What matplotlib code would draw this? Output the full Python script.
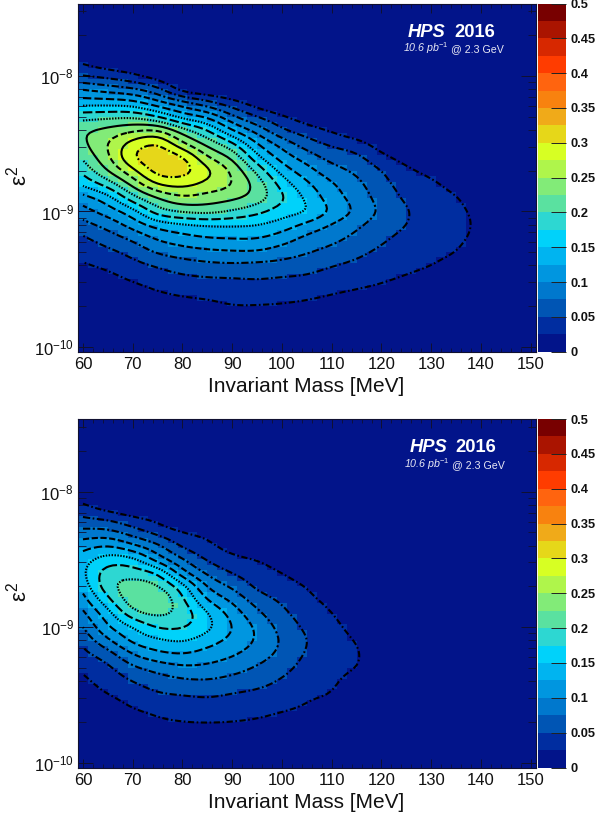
import numpy as np
import matplotlib
matplotlib.use("Agg")
import matplotlib.pyplot as plt
from matplotlib.colors import ListedColormap, BoundaryNorm
from matplotlib.ticker import FixedLocator, LogLocator, NullFormatter, FuncFormatter

plt.rcParams['font.family'] = ['Liberation Sans', 'DejaVu Sans']
plt.rcParams['mathtext.fontset'] = 'custom'
plt.rcParams['mathtext.rm'] = 'Liberation Sans'
plt.rcParams['mathtext.it'] = 'Liberation Sans:italic'
plt.rcParams['mathtext.bf'] = 'Liberation Sans:bold'

# log10(epsilon^2) rows of every column below
log_eps = [-7.8, -7.9, -8.0, -8.1, -8.2, -8.3, -8.4, -8.5, -8.6, -8.7, -8.8,
           -8.9, -9.0, -9.1, -9.2, -9.3, -9.4, -9.5, -9.6, -9.7, -9.8, -9.9]

top_mass = [60, 65, 70, 75, 80, 85, 90, 95, 100, 105, 110, 115, 120, 125, 130, 135, 140, 145]
top_z = [
 [0, .022, .05, .10, .14, .19, .22, .22, .205, .182, .155, .115, .09, .066, .046, .034, .022, .012, .005, 0, 0, 0],
 [0, .01, .042, .09, .14, .193, .232, .25, .245, .225, .185, .14, .112, .084, .062, .044, .03, .017, .008, .002, 0, 0],
 [0, .005, .03, .08, .135, .195, .245, .285, .298, .268, .232, .19, .14, .11, .08, .058, .042, .028, .013, .005, 0, 0],
 [0, 0, .013, .058, .11, .175, .25, .30, .316, .31, .275, .225, .188, .135, .103, .078, .052, .038, .023, .008, 0, 0],
 [0, 0, 0, .015, .085, .14, .21, .255, .303, .31, .282, .245, .203, .146, .115, .088, .062, .044, .03, .012, 0, 0],
 [0, 0, 0, .005, .06, .12, .175, .217, .252, .28, .267, .238, .208, .152, .123, .094, .068, .047, .034, .016, .002, 0],
 [0, 0, 0, 0, .035, .08, .125, .18, .22, .245, .25, .23, .197, .153, .125, .097, .07, .048, .037, .024, .004, 0],
 [0, 0, 0, 0, .013, .05, .09, .125, .157, .193, .215, .213, .182, .15, .125, .097, .068, .05, .037, .024, .005, 0],
 [0, 0, 0, 0, 0, .028, .054, .09, .114, .14, .165, .178, .162, .138, .112, .087, .066, .047, .036, .022, .005, 0],
 [0, 0, 0, 0, 0, .012, .036, .062, .088, .11, .13, .145, .15, .118, .093, .077, .06, .045, .033, .018, .003, 0],
 [0, 0, 0, 0, 0, 0, .022, .045, .066, .085, .103, .112, .12, .098, .082, .067, .051, .038, .027, .012, 0, 0],
 [0, 0, 0, 0, 0, 0, .006, .035, .056, .07, .082, .09, .095, .08, .068, .056, .044, .033, .022, .006, 0, 0],
 [0, 0, 0, 0, 0, 0, 0, .012, .032, .05, .058, .065, .07, .062, .054, .045, .036, .028, .017, 0, 0, 0],
 [0, 0, 0, 0, 0, 0, 0, 0, .015, .03, .04, .046, .052, .05, .043, .036, .03, .022, .01, 0, 0, 0],
 [0, 0, 0, 0, 0, 0, 0, 0, .006, .018, .03, .035, .038, .037, .034, .03, .025, .016, .006, 0, 0, 0],
 [0, 0, 0, 0, 0, 0, 0, 0, 0, .005, .016, .027, .03, .031, .029, .025, .017, .009, .003, 0, 0, 0],
 [0, 0, 0, 0, 0, 0, 0, 0, 0, 0, 0, .01, .018, .02, .018, .012, .006, 0, 0, 0, 0, 0],
 [0, 0, 0, 0, 0, 0, 0, 0, 0, 0, 0, 0, 0, 0, 0, 0, 0, 0, 0, 0, 0, 0],
]

bottom_mass = [60, 65, 70, 75, 80, 85, 90, 95, 100, 105, 110, 115, 120, 125]
bottom_z = [
 [0, 0, .003, .028, .053, .083, .115, .138, .146, .135, .115, .095, .075, .057, .043, .03, .02, .012, .005, 0, 0, 0],
 [0, 0, 0, .01, .046, .083, .125, .162, .187, .19, .168, .14, .122, .095, .064, .045, .035, .024, .01, .002, 0, 0],
 [0, 0, 0, 0, .03, .063, .105, .156, .188, .212, .215, .19, .15, .13, .10, .07, .05, .037, .025, .008, 0, 0],
 [0, 0, 0, 0, .018, .042, .08, .114, .172, .202, .222, .205, .177, .145, .118, .085, .062, .047, .033, .02, .002, 0],
 [0, 0, 0, 0, 0, .025, .046, .076, .11, .16, .18, .19, .177, .152, .124, .095, .07, .05, .037, .025, .006, 0],
 [0, 0, 0, 0, 0, .017, .032, .047, .07, .098, .125, .152, .156, .136, .114, .094, .072, .053, .038, .026, .01, 0],
 [0, 0, 0, 0, 0, 0, .013, .033, .049, .071, .095, .115, .125, .117, .103, .085, .066, .048, .036, .025, .008, 0],
 [0, 0, 0, 0, 0, 0, 0, .024, .037, .045, .063, .081, .095, .097, .087, .072, .058, .044, .033, .022, .005, 0],
 [0, 0, 0, 0, 0, 0, 0, .01, .025, .035, .046, .056, .066, .072, .068, .058, .047, .038, .028, .016, .003, 0],
 [0, 0, 0, 0, 0, 0, 0, 0, .012, .024, .031, .038, .045, .05, .047, .041, .035, .028, .022, .01, 0, 0],
 [0, 0, 0, 0, 0, 0, 0, 0, 0, .008, .018, .026, .032, .035, .035, .032, .029, .024, .014, .004, 0, 0],
 [0, 0, 0, 0, 0, 0, 0, 0, 0, 0, 0, .008, .016, .024, .027, .025, .015, .007, 0, 0, 0, 0],
 [0, 0, 0, 0, 0, 0, 0, 0, 0, 0, 0, 0, 0, .008, .012, .01, .005, 0, 0, 0, 0, 0],
 [0, 0, 0, 0, 0, 0, 0, 0, 0, 0, 0, 0, 0, 0, 0, 0, 0, 0, 0, 0, 0, 0],
]

levels = [0, .025, .05, .075, .1, .125, .15, .175, .2, .225, .25, .275, .3, .325,
          .35, .375, .4, .425, .45, .475, .5]
band_colors = ['#02148a', '#002da0', '#0055b4', '#0078cd', '#0096e0', '#00b4f0',
               '#00d2fa', '#2dd7d2', '#5ae1a0', '#82eb78', '#aff54b', '#d7ff23',
               '#e6d719', '#f0aa19', '#f8820f', '#ff640f', '#ff3c00', '#d72800',
               '#aa1400', '#780000']
line_levels = [.025, .05, .075, .1, .125, .15, .175, .2, .225, .25, .275, .3]
line_styles = [(0, (3, 1.2, .8, 1.2)), (0, (3.5, 1.2, .8, 1.2)), (0, (3.5, 1.2, 1, 1.2)),
               (0, (3, 1.2)), (0, (4, 1.5)), (0, (.7, .7)), (0, (4.5, 1.5)), (0, (.7, .7)),
               'solid', (0, (3, 1.5)), 'solid', (0, (3, 1.2, .8, 1.2))]
cbar_ticks = [0, .05, .1, .15, .2, .25, .3, .35, .4, .45, .5]
mass_ticks = [60, 70, 80, 90, 100, 110, 120, 130, 140, 150]
mass_minor = list(range(60, 152, 2))

W, H = 595, 817
fig = plt.figure(figsize=(W / 100, H / 100), dpi=100)
cmap = ListedColormap(band_colors)
norm = BoundaryNorm(levels, cmap.N)
ink = '#101030'
KERNEL = np.array([1, 8, 28, 56, 70, 56, 28, 8, 1]) / 256.0


def box(l, t, r, b):
    return [l / W, 1 - b / H, (r - l) / W, (b - t) / H]


def refine(a, n, axis):
    """Catmull-Rom through the read values, n sub-steps per grid step."""
    a = np.moveaxis(a, axis, 0)
    p = np.concatenate([[2 * a[0] - a[1]], a, [2 * a[-1] - a[-2]]])
    out = []
    for i in range(1, len(p) - 2):
        for k in range(n):
            t = k / n
            out.append(.5 * (2 * p[i] + (p[i + 1] - p[i - 1]) * t
                             + (2 * p[i - 1] - 5 * p[i] + 4 * p[i + 1] - p[i + 2]) * t ** 2
                             + (3 * p[i] - p[i - 1] - 3 * p[i + 1] + p[i + 2]) * t ** 3))
    out.append(p[-2])
    return np.moveaxis(np.array(out), 0, axis)


def soften(a):
    """Take the reading noise of the hand-read grid out of the contour lines."""
    h = len(KERNEL) // 2
    for axis in (0, 1):
        a = np.moveaxis(a, axis, 0)
        p = np.concatenate([2 * a[:1] - a[h:0:-1], a, 2 * a[-1:] - a[-2:-h - 2:-1]])
        a = np.apply_along_axis(lambda c: np.convolve(c, KERNEL, mode='valid'), 0, p)
        a = np.moveaxis(a, 0, axis)
    return a


def panel(t, b, mass, z):
    ax = fig.add_axes(box(78, t, 535.7, b))
    ax.set_facecolor(band_colors[0])
    Z = np.clip(soften(refine(refine(np.array(z, float).T, 5, 0), 5, 1)), 0, None)
    m = refine(np.array(mass, float), 5, 0)
    le = refine(np.array(log_eps), 5, 0)
    e = 10.0 ** le
    # filled 2 MeV x 0.04 decade cells with smooth contour lines on top
    ax.pcolormesh(m[::2], 10.0 ** le[::2], Z[::2, ::2], cmap=cmap, norm=norm, shading='nearest',
                  antialiased=False, linewidth=0)
    ax.contour(m, e, Z, levels=line_levels, colors='k', linewidths=1.5, linestyles=line_styles)
    ax.set_yscale('log')
    ax.set_xlim(59, 151)
    ax.set_ylim(10 ** -10.035, 10 ** -7.465)
    ax.xaxis.set_major_locator(FixedLocator(mass_ticks))
    ax.xaxis.set_minor_locator(FixedLocator(mass_minor))
    ax.yaxis.set_major_locator(FixedLocator([1e-10, 1e-9, 1e-8]))
    ax.yaxis.set_minor_locator(LogLocator(base=10, subs=range(2, 10), numticks=12))
    ax.yaxis.set_minor_formatter(NullFormatter())
    ax.yaxis.set_major_formatter(FuncFormatter(lambda v, p: r'$\mathregular{10^{%d}}$' % round(np.log10(v))))
    ax.tick_params(axis='x', which='major', direction='in', top=True, length=6.5, width=.7, color=ink,
                   labelsize=12, pad=4, labelcolor='#111111')
    ax.tick_params(axis='x', which='minor', direction='in', top=True, length=3.2, width=.6, color=ink)
    ax.tick_params(axis='y', which='major', direction='in', right=True, length=11, width=.7, color=ink,
                   labelsize=12, pad=3, labelcolor='#111111')
    ax.tick_params(axis='y', which='minor', direction='in', right=True, length=5.5, width=.6, color=ink)
    for s in ax.spines.values():
        s.set_linewidth(.8)
        s.set_color(ink)
    fig.text(306.5 / W, 1 - (b + 40) / H, 'Invariant Mass [MeV]', ha='center', va='baseline',
             fontsize=15, color='#111111')
    fig.text(19 / W, 1 - (b - 176) / H, 'ε$^{2}$', rotation=90, ha='center', va='center',
             fontsize=16, color='#111111')
    cax = fig.add_axes(box(538, t, 566, b))
    cb = fig.colorbar(plt.cm.ScalarMappable(norm=norm, cmap=cmap), cax=cax, spacing='proportional',
                      ticks=cbar_ticks, drawedges=False)
    cb.outline.set_visible(False)
    cb.minorticks_off()
    cax.yaxis.set_major_formatter(FuncFormatter(lambda v, p: '%g' % round(v, 3)))
    for lab in cax.get_yticklabels():
        lab.set_fontweight('bold')
        lab.set_fontsize(9.3)
    cax.tick_params(axis='y', direction='in', length=11, width=.7, color='#222222', pad=3,
                    labelcolor='#111111')
    return ax


panel(3.5, 351.7, top_mass, top_z)
panel(419, 767.5, bottom_mass, bottom_z)

for dy, dx in ((0, 0), (415.5, 1.5)):
    fig.text((408 + dx) / W, 1 - (37 + dy) / H, 'HPS', color='white', fontweight='bold', style='italic', fontsize=13.2)
    fig.text((454 + dx) / W, 1 - (37 + dy) / H, '2016', color='white', fontweight='bold', fontsize=13.2)
    fig.text((403 + dx) / W, 1 - (52.5 + dy) / H, r'10.6 pb$^{\mathit{-1}}$', style='italic', color='#e8e8f4', fontsize=7.7)
    fig.text((451 + dx) / W, 1 - (52.5 + dy) / H, '@ 2.3 GeV', color='#e8e8f4', fontsize=7.7)

fig.savefig('out.png', dpi=100)
